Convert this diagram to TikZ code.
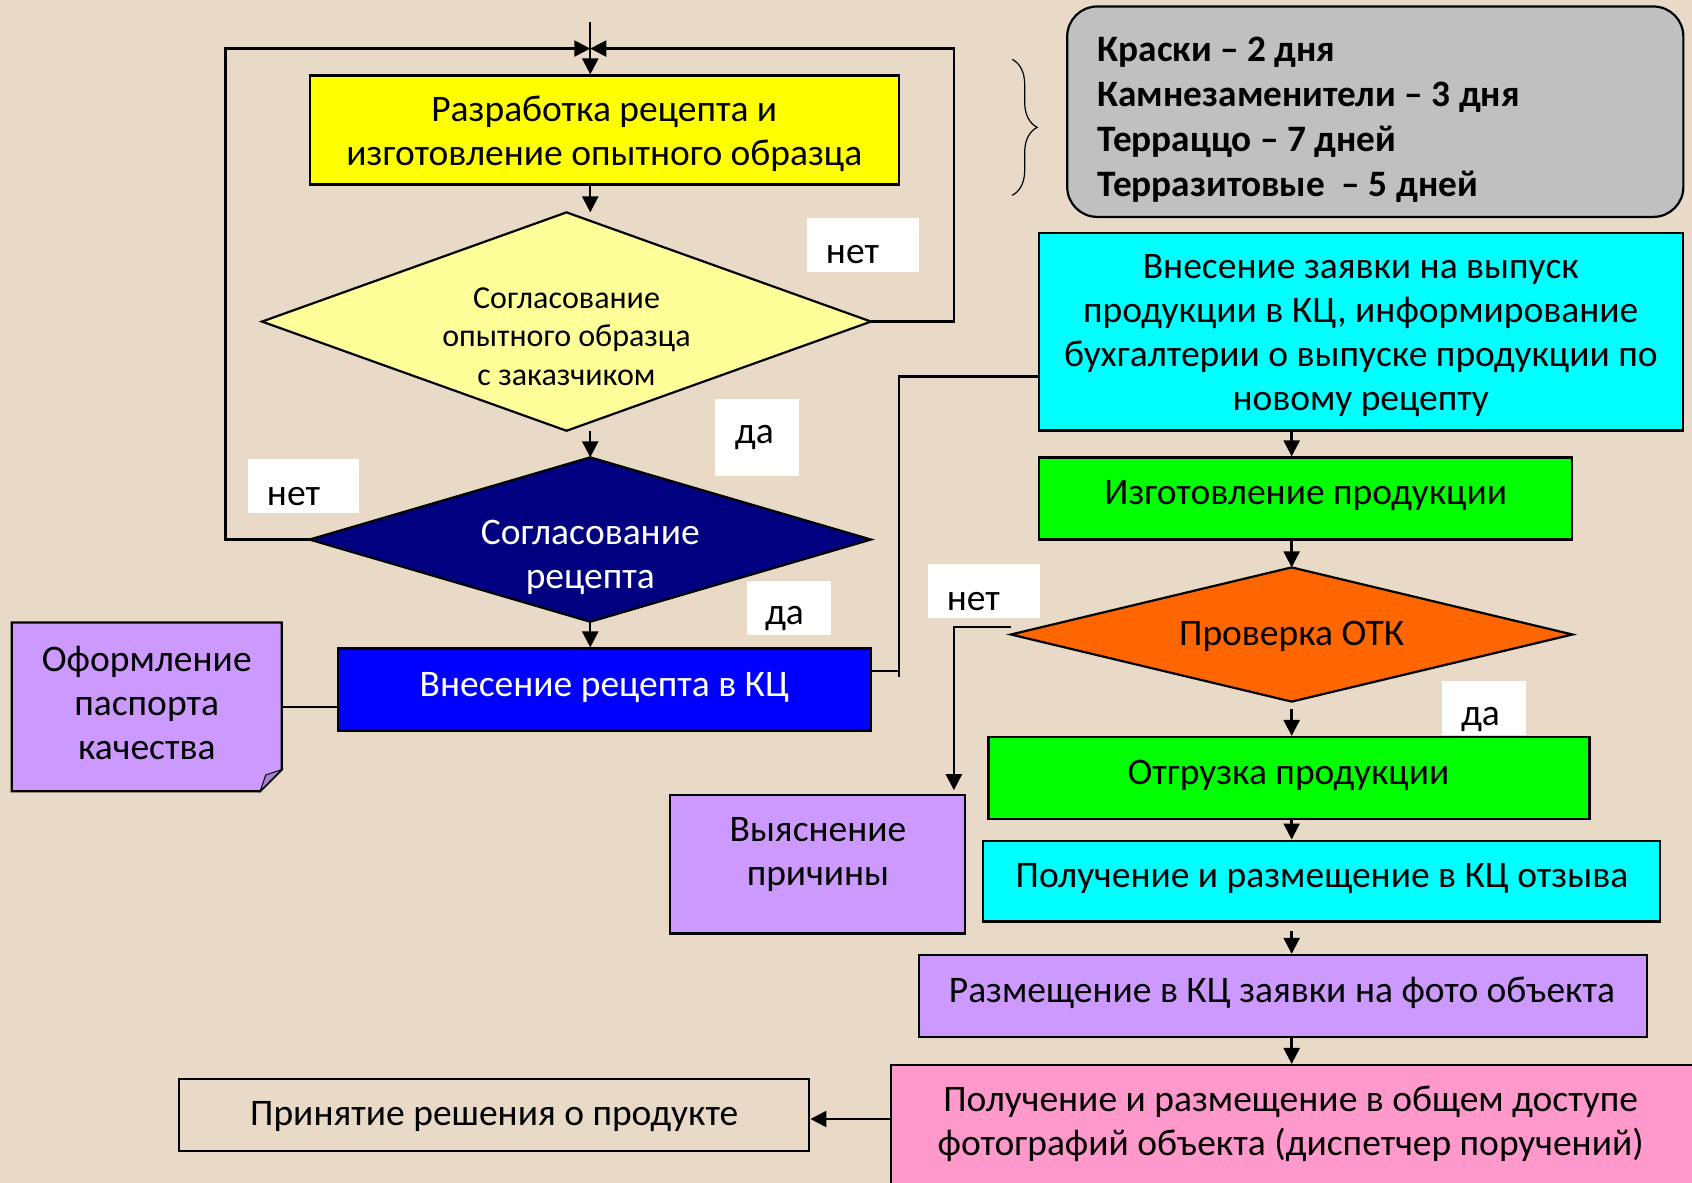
\documentclass[tikz,border=0pt]{standalone}
\usepackage{fontspec}
\setmainfont{Carlito}
\usetikzlibrary{fit,arrows.meta,calc,decorations.pathreplacing}
\definecolor{bgc}{RGB}{233,218,199}
\definecolor{yelc}{HTML}{FFFF00}
\definecolor{lyelc}{HTML}{FFFF99}
\definecolor{navyc}{HTML}{000080}
\definecolor{bluec}{HTML}{0000FF}
\definecolor{cyanc}{HTML}{00FFFF}
\definecolor{greenc}{HTML}{00FF00}
\definecolor{orangec}{HTML}{FF6600}
\definecolor{purpc}{HTML}{CC99FF}
\definecolor{purpd}{HTML}{A77FD6}
\definecolor{pinkc}{HTML}{FF99CC}
\definecolor{grayc}{HTML}{C0C0C0}
\begin{document}
\begin{tikzpicture}[x=1.0791pt,y=-1.0791pt,
  every node/.style={font=\fontsize{37.5}{44}\selectfont},
  box/.style={draw=black, line width=2.2pt, inner sep=0pt},
  anc/.style={inner sep=0pt},
  dia/.style={draw=black, line width=2.2pt},
  lbl/.style={fill=white, inner sep=0pt},
  txt/.style={align=center, inner sep=0pt},
  ltxt/.style={inner sep=0pt, anchor=base},
  arr/.style={line width=2.4pt, -{Triangle[length=16pt,width=16pt]}},
  ln/.style={line width=2.4pt}]
\fill[bgc] (0,0) rectangle (1568,1096);
\useasboundingbox (0,0) rectangle (1568,1096);

% left column
\node[box, fill=yelc, fit={(287,70)(833,171)}] (yel) {};
\node[txt] (yelt) at (560,124) {Разработка рецепта и\\изготовление опытного образца};
\node[anc, fit={(243,197)(807,399)}] (d1) {};
\filldraw[dia, fill=lyelc] (d1.north) -- (d1.east) -- (d1.south) -- (d1.west) -- cycle;
\node[txt, font=\fontsize{32}{38.8}\selectfont] (d1t) at (525,312) {Согласование\\опытного образца\\с заказчиком};
\node[anc, fit={(287,424)(807,576)}] (d2) {};
\filldraw[dia, fill=navyc] (d2.north) -- (d2.east) -- (d2.south) -- (d2.west) -- cycle;
\node[txt, text=white] (d2t) at (547,517) {Согласование\\рецепта};
\node[box, fill=bluec, fit={(313,601)(807,677)}] (blue) {};
\node[txt, text=white] (bluet) at (560,637) {Внесение рецепта в КЦ};
\node[anc, fit={(11,577)(261,733)}] (note) {};
\filldraw[fill=purpc, draw=black, line width=2.2pt] (note.north west) -- (note.north east) -- ($(note.south east)+(0,-20)$) -- ($(note.south east)+(-20,0)$) -- (note.south west) -- cycle;
\filldraw[fill=purpd, draw=black, line width=1pt] ($(note.south east)+(0,-20)$) -- ($(note.south east)+(-20,0)$) -- ($(note.south east)+(-15,-15)$) -- cycle;
\node[txt] (notet) at (136,651) {Оформление\\паспорта\\качества};
\node[box, fit={(166,1000)(750,1067)}] (dec) {};
\node[txt] (dect) at (458,1035) {Принятие решения о продукте};

% right column
\node[box, fill=grayc, rounded corners=30pt, fit={(989,6)(1560,201)}] (gray) {};
\node[inner sep=0pt, anchor=west, align=left, font=\fontsize{37.3}{45}\selectfont\bfseries] (grayt) at (1017,111) {Краски – 2 дня\\Камнезаменители – 3 дня\\Терраццо – 7 дней\\Терразитовые\ \ – 5 дней};
\draw[line width=1.2pt, decorate, decoration={brace, amplitude=25pt}] (938,55) -- (938,181);
\node[box, fill=cyanc, fit={(963,216)(1560,399)}] (cy) {};
\node[txt] (cyt) at (1261,311) {Внесение заявки на выпуск\\продукции в КЦ, информирование\\бухгалтерии о выпуске продукции по\\новому рецепту};
\node[box, fill=greenc, fit={(963,424)(1457,500)}] (g1) {};
\node[txt] (g1t) at (1210,459) {Изготовление продукции};
\node[anc, fit={(937,526)(1457,650)}] (d3) {};
\filldraw[dia, fill=orangec] (d3.north) -- (d3.east) -- (d3.south) -- (d3.west) -- cycle;
\node[txt] (d3t) at (1197,590) {Проверка ОТК};
\node[box, fill=greenc, fit={(916,683)(1473,759)}] (g2) {};
\node[txt] (g2t) at (1194,719) {Отгрузка продукции};
\node[box, fill=cyanc, fit={(911,779)(1538,854)}] (c2) {};
\node[txt] (c2t) at (1225,814) {Получение и размещение в КЦ отзыва};
\node[box, fill=purpc, fit={(621,737)(894,865)}] (why) {};
\node[txt] (whyt) at (758,792) {Выяснение\\причины};
\node[box, fill=purpc, fit={(852,885)(1526,961)}] (p3) {};
\node[txt] (p3t) at (1188,920) {Размещение в КЦ заявки на фото объекта};
\node[box, fill=pinkc, fit={(826,987)(1575,1110)}] (pk) {};
\node[txt] (pkt) at (1196,1041) {Получение и размещение в общем доступе\\фотографий объекта (диспетчер поручений)};

% labels
\node[lbl, fit={(748,202)(852,252)}] (l1) {};
\node[ltxt] (l1t) at (790,244) {нет};
\node[lbl, fit={(663,370)(740,441)}] (l2) {};
\node[ltxt] (l2t) at (699,411) {да};
\node[lbl, fit={(230,425)(333,475)}] (l3) {};
\node[ltxt] (l3t) at (272,468) {нет};
\node[lbl, fit={(692,538)(770,588)}] (l4) {};
\node[ltxt] (l4t) at (727,579) {да};
\node[lbl, fit={(860,523)(964,573)}] (l5) {};
\node[ltxt] (l5t) at (902,566) {нет};
\node[lbl, fit={(1336,631)(1414,681)}] (l6) {};
\node[ltxt] (l6t) at (1372,672) {да};

% connectors
\coordinate (top) at (547,20);
\coordinate (j) at (547,45);
\coordinate (lt) at (209,45);
\coordinate (rt) at (884,45);
\draw[arr] (top) -- (yel.north -| top);
\draw[arr] (d1.east) -| (rt) -- (j);
\draw[arr] (d2.west) -| (lt) -- (j);
\draw[arr] (yel.south -| top) -- (d1.north -| top);
\draw[arr] (d1.south -| top) -- (d2.north);
\draw[arr] (d2.south) -- (blue.north -| d2.south);
\draw[ln] (note.east) -- (note.east -| blue.west);
\coordinate (b1) at (833,622);
\coordinate (b2) at (833,349);
\draw[ln] (blue.east |- b1) -- (b1) -- (b2) -- (cy.west |- b2);
\draw[ln] (b1) -- ++(0,5);
\draw[arr] (cy.south -| d3.north) -- (g1.north -| d3.north);
\draw[arr] (g1.south -| d3.north) -- (d3.north);
\draw[arr, shorten <=7.5pt] (d3.south) -- (g2.north -| d3.south);
\draw[arr] (g2.south -| d3.south) -- (c2.north -| d3.south);
\draw[arr, shorten <=8.5pt] (c2.south -| d3.south) -- (p3.north -| d3.south);
\draw[arr] (p3.south -| d3.south) -- (pk.north -| d3.south);
\coordinate (pl) at (826,1037);
\draw[arr] (pk.west |- pl) -- (dec.east |- pl);
\coordinate (n1) at (884,581);
\draw[arr, shorten >=4pt] (d3.west |- n1) -- (n1) -- (why.north -| n1);
\end{tikzpicture}
\end{document}
